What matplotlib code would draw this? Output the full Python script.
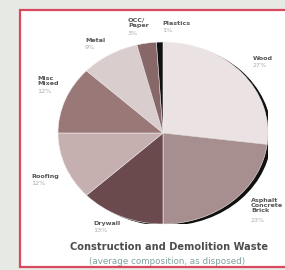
import matplotlib
matplotlib.use('Agg')
import matplotlib.pyplot as plt
from matplotlib.patches import Rectangle, Ellipse

# waste categories, clockwise from 12 o'clock
labels = ['Wood', 'Asphalt\nConcrete\nBrick', 'Drywall', 'Roofing',
          'Misc\nMixed', 'Metal', 'OCC/\nPaper', 'Plastics']
shares = [27, 23, 13, 12, 12, 9, 3, 1]
colors = ['#ebe3e3', '#a88f8f', '#6b4a4d', '#c6afaf',
          '#9a7878', '#dacdcd', '#876767', '#111111']

# top-left corner of each label block, in figure pixels
label_pos = [(253, 56), (251, 198), (93, 221), (31, 174),
             (37, 76), (85, 38), (128, 18), (162, 21)]
LINE_H = 6.7


def main():
  W, H = 285, 270
  fig = plt.figure(figsize=(W / 100, H / 100), dpi=100)
  fig.patch.set_facecolor('#e6e9e4')

  # white panel with red frame
  bg = fig.add_axes([0, 0, 1, 1])
  bg.set_xlim(0, W)
  bg.set_ylim(H, 0)
  bg.axis('off')
  bg.add_patch(Rectangle((20, 10), 270, 257, facecolor='white',
                         edgecolor='#d9485e', linewidth=1.6))

  cx, cy, rx, ry = 163, 133, 105, 91
  ax = fig.add_axes([(cx - rx) / W, (H - cy - ry) / H, 2 * rx / W, 2 * ry / H])
  # dark shadow behind the pie
  ax.add_patch(Ellipse((0.035, -0.02), 2.0, 2.0, facecolor='#111111',
                       edgecolor='none', zorder=0))
  ax.pie(shares, colors=colors, startangle=90, counterclock=False,
         radius=1.0, wedgeprops={'linewidth': 0.4, 'edgecolor': '#f4eeee'})
  ax.set_aspect('auto')
  ax.set_xlim(-1, 1)
  ax.set_ylim(-1, 1)

  for lab, val, (x, y) in zip(labels, shares, label_pos):
    n = lab.count('\n') + 1
    bg.text(x, y, lab, fontsize=4.6, fontweight='bold', color='#555555',
            ha='left', va='top', linespacing=1.05)
    bg.text(x, y + n * LINE_H, '%d%%' % val, fontsize=4.6, color='#aaaaaa',
            ha='left', va='top')

  bg.text(169, 247, 'Construction and Demolition Waste', fontsize=7.1,
          fontweight='bold', color='#4d4d4d', ha='center', va='center')
  bg.text(167, 261, '(average composition, as disposed)', fontsize=6.3,
          color='#7fa3a0', ha='center', va='center')

  fig.savefig('out.png', dpi=100)


if __name__ == '__main__':
  main()
